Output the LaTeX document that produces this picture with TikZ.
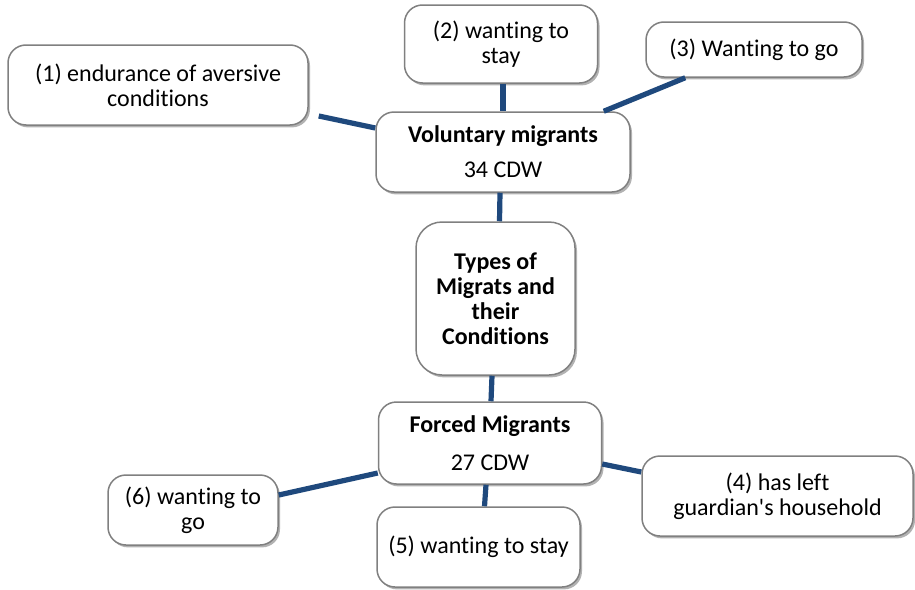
\documentclass[tikz,border=0pt]{standalone}
\usepackage{fontspec}
\setmainfont{Carlito}[Ligatures=NoCommon]
\usetikzlibrary{shadows}
\definecolor{linkblue}{RGB}{31,73,125}
\definecolor{boxgray}{RGB}{128,128,128}

\begin{document}
\begin{tikzpicture}[
  x=0.5pt, y=-0.5pt,
  box/.style={rectangle, rounded corners=9pt, draw=boxgray, line width=0.75pt, fill=white,
              drop shadow={shadow xshift=1pt, shadow yshift=-1.2pt, fill=black, opacity=0.3},
              align=center, inner sep=0pt, font=\fontsize{12}{12.5}\selectfont},
  link/.style={draw=linkblue, line width=2.6pt}
]
  \useasboundingbox (0,0) rectangle (915,589);

  % centre column
  \node[box, minimum width=127pt, minimum height=40pt] (vol) at (503,152)
    {\textbf{Voluntary migrants}\\[5pt]34 CDW};
  \node[box, rounded corners=13pt, minimum width=79.5pt, minimum height=76.5pt] (types) at (495.5,298.5)
    {\textbf{Types of}\\\textbf{Migrats and}\\\textbf{their}\\\textbf{Conditions}};
  \node[box, minimum width=111.5pt, minimum height=41pt] (forced) at (490,443)
    {\textbf{Forced Migrants}\\[6.5pt]27 CDW};

  % conditions
  \node[box, minimum width=150pt, minimum height=40pt] (aversive) at (158,85)
    {(1) endurance of aversive\\conditions};
  \node[box, minimum width=96.5pt, minimum height=39pt] (vstay) at (501,44)
    {(2) wanting to\\stay};
  \node[box, minimum width=108pt, minimum height=27.5pt] (vgo) at (754,49.5)
    {(3) Wanting to go};
  \node[box, minimum width=135.5pt, minimum height=40pt] (left) at (777.5,496)
    {(4) has left\\guardian\textquotesingle s household};
  \node[box, minimum width=101.5pt, minimum height=40pt] (fstay) at (478.5,547)
    {(5) wanting to stay};
  \node[box, minimum width=85pt, minimum height=35pt] (fgo) at (193,510)
    {(6) wanting to\\go};

  \coordinate (aversiveend) at ([shift={(5pt,-15.5pt)}]aversive.east);

  \draw[link] (aversiveend) -- ([yshift=12pt]vol.west);
  \draw[link] ([xshift=1pt]vstay.south) -- ([xshift=0pt]vol.north);
  \draw[link] ([xshift=-13.5pt]vol.north east) -- ([xshift=20pt]vgo.south west);
  \draw[link] ([xshift=-1.5pt]vol.south) -- ([xshift=2pt]types.north);
  \draw[link] ([xshift=-1.75pt]types.south) -- ([xshift=0.5pt]forced.north);
  \draw[link] ([yshift=-10.5pt]forced.east) -- ([yshift=12pt]left.west);
  \draw[link] ([xshift=-2pt]forced.south) -- ([xshift=3pt]fstay.north);
  \draw[link] ([yshift=-15pt]forced.west) -- ([yshift=7.5pt]fgo.east);
\end{tikzpicture}
\end{document}
